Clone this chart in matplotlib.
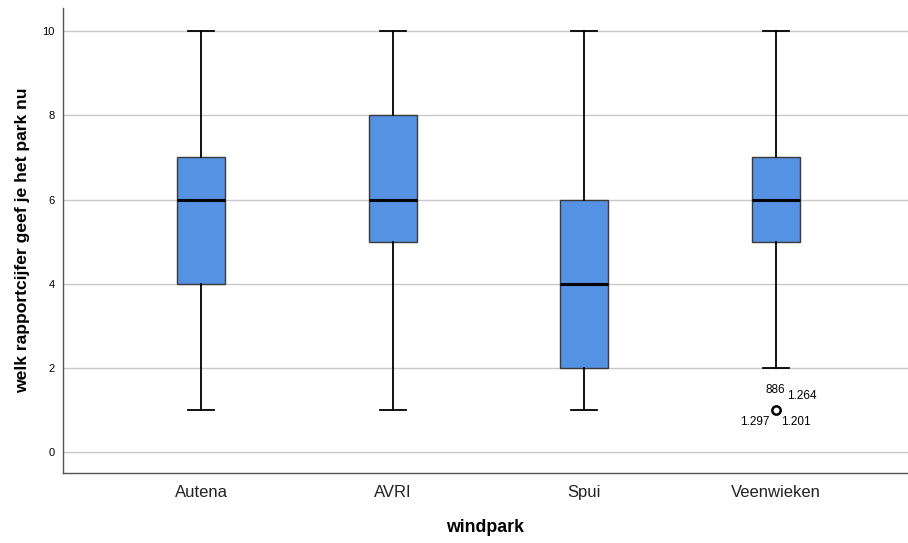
import matplotlib.pyplot as plt

plt.rcParams['font.family'] = ['Liberation Sans', 'DejaVu Sans']

parks = ["Autena", "AVRI", "Spui", "Veenwieken"]
whis_lo = [1, 1, 1, 2]
q1 = [4, 5, 2, 5]
medians = [6, 6, 4, 6]
q3 = [7, 8, 6, 7]
whis_hi = [10, 10, 10, 10]
outliers = [[], [], [], [1]]
outlier_ids = ["886", "1.264", "1.297", "1.201"]

stats = []
for i, name in enumerate(parks):
    stats.append(dict(label=name, whislo=whis_lo[i], q1=q1[i], med=medians[i],
                      q3=q3[i], whishi=whis_hi[i], fliers=outliers[i]))

fig = plt.figure(figsize=(9.08, 5.43), dpi=100)
ax = fig.add_axes([0.0694, 0.129, 0.9306, 0.856])

pos = list(range(1, len(parks) + 1))
ax.bxp(stats, positions=pos, widths=0.25, patch_artist=True,
       boxprops=dict(facecolor='#5592e3', edgecolor='#3a3a3a', linewidth=1.0),
       medianprops=dict(color='black', linewidth=2.2),
       whiskerprops=dict(color='black', linewidth=1.3),
       capprops=dict(color='black', linewidth=1.3),
       capwidths=0.135,
       flierprops=dict(marker='o', markersize=6, markerfacecolor='white',
                       markeredgecolor='black', markeredgewidth=1.8))

# case numbers next to the Veenwieken outlier
ox, oy = 4, outliers[3][0]
lab_kw = dict(textcoords='offset points', fontsize=8.5, va='center')
ax.annotate(outlier_ids[0], (ox, oy), xytext=(-7.5, 14.5), ha='left', **lab_kw)
ax.annotate(outlier_ids[1], (ox, oy), xytext=(8, 10), ha='left', **lab_kw)
ax.annotate(outlier_ids[2], (ox, oy), xytext=(-4.5, -9), ha='right', **lab_kw)
ax.annotate(outlier_ids[3], (ox, oy), xytext=(3.5, -9), ha='left', **lab_kw)

ax.set_xlim(0.28, 4.69)
ax.set_ylim(-0.5, 10.55)
ax.set_yticks([0, 2, 4, 6, 8, 10])
ax.set_xticks(pos)
ax.set_xticklabels(parks, fontsize=12, color='#222222')
ax.tick_params(axis='y', labelsize=8, length=0, pad=6)
ax.tick_params(axis='x', length=0, pad=9)
ax.grid(axis='y', color='#c8c8c8', linewidth=1.0)
ax.set_axisbelow(True)

for side in ['top', 'right']:
    ax.spines[side].set_visible(False)
for side in ['left', 'bottom']:
    ax.spines[side].set_color('#555555')
    ax.spines[side].set_linewidth(1.0)

ax.set_xlabel("windpark", fontsize=12.8, fontweight='bold', labelpad=13)
ax.set_ylabel("welk rapportcijfer geef je het park nu", fontsize=12.6,
              fontweight='bold')
ax.yaxis.set_label_coords(-0.039, 0.5)

fig.savefig("out.png", dpi=100)
